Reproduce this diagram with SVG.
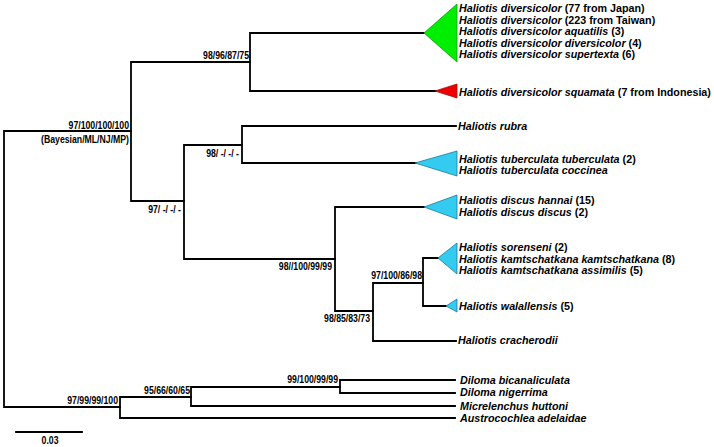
<svg xmlns="http://www.w3.org/2000/svg" width="714" height="447" viewBox="0 0 714 447">
<style>
.br{fill:none;stroke:#000;stroke-width:1.8;stroke-linecap:square}
.tx{font-family:"Liberation Sans",Arial,sans-serif;font-size:11.2px;font-style:italic;font-weight:bold;fill:#000}
.tx tspan.n{font-style:normal}
.sp{font-family:"Liberation Sans",Arial,sans-serif;font-size:10.5px;font-weight:bold;fill:#000;text-anchor:end}
.g{fill:#00ee00;stroke:#119911;stroke-width:0.8}
.r{fill:#ee0000;stroke:#991111;stroke-width:0.8}
.c{fill:#33ccf0;stroke:#227799;stroke-width:0.8}
</style>
<rect width="714" height="447" fill="#fff"/>
<g id="connectors">
<path class="br" d="M4,131V407 M4,131H131 M4,407H120"/>
<path class="br" d="M131,62V201 M131,62H250 M131,201H184"/>
<path class="br" d="M250,33V91 M250,33H424 M250,91H436"/>
<path class="br" d="M184,145V259 M184,145H242 M184,259H335"/>
<path class="br" d="M242,126V163 M242,126H456 M242,163H416"/>
<path class="br" d="M335,207V311 M335,207H424 M335,311H373"/>
<path class="br" d="M373,283V341 M373,283H423 M373,341H456"/>
<path class="br" d="M423,258V306 M423,258H438 M423,306H446"/>
<path class="br" d="M120,397V418 M120,397H191 M120,418H455"/>
<path class="br" d="M191,387V406 M191,387H340 M191,406H455"/>
<path class="br" d="M340,380V393 M340,380H455 M340,393H455"/>
</g>
<g id="clade-diversicolor">
<polygon class="g" points="424,33 457,4 457,62"/>
<text class="tx" transform="translate(459,12) scale(0.96,1)">Haliotis diversicolor <tspan class="n">(77 from Japan)</tspan></text>
<text class="tx" transform="translate(459,23.5) scale(0.96,1)">Haliotis diversicolor <tspan class="n">(223 from Taiwan)</tspan></text>
<text class="tx" transform="translate(459,35) scale(0.96,1)">Haliotis diversicolor aquatilis <tspan class="n">(3)</tspan></text>
<text class="tx" transform="translate(459,46.5) scale(0.96,1)">Haliotis diversicolor diversicolor <tspan class="n">(4)</tspan></text>
<text class="tx" transform="translate(459,58) scale(0.96,1)">Haliotis diversicolor supertexta <tspan class="n">(6)</tspan></text>
</g>
<g id="clade-squamata">
<polygon class="r" points="435,91 457,84 457,98"/>
<text class="tx" transform="translate(459,95.5) scale(0.96,1)">Haliotis diversicolor squamata <tspan class="n">(7 from Indonesia)</tspan></text>
</g>
<g id="taxon-rubra">
<text class="tx" transform="translate(458,130) scale(0.96,1)">Haliotis rubra</text>
</g>
<g id="clade-tuberculata">
<polygon class="c" points="415,163 457,151 457,176"/>
<text class="tx" transform="translate(459,162.5) scale(0.96,1)">Haliotis tuberculata tuberculata <tspan class="n">(2)</tspan></text>
<text class="tx" transform="translate(459,174) scale(0.96,1)">Haliotis tuberculata coccinea</text>
</g>
<g id="clade-discus">
<polygon class="c" points="424,207 457,195 457,219"/>
<text class="tx" transform="translate(459,204) scale(0.96,1)">Haliotis discus hannai <tspan class="n">(15)</tspan></text>
<text class="tx" transform="translate(459,215.5) scale(0.96,1)">Haliotis discus discus <tspan class="n">(2)</tspan></text>
</g>
<g id="clade-kamtschatkana">
<polygon class="c" points="438,258 457,243 457,274"/>
<text class="tx" transform="translate(459,251) scale(0.96,1)">Haliotis sorenseni <tspan class="n">(2)</tspan></text>
<text class="tx" transform="translate(459,262.7) scale(0.96,1)">Haliotis kamtschatkana kamtschatkana <tspan class="n">(8)</tspan></text>
<text class="tx" transform="translate(459,274.4) scale(0.96,1)">Haliotis kamtschatkana assimilis <tspan class="n">(5)</tspan></text>
</g>
<g id="clade-walallensis">
<polygon class="c" points="446,306 457,299 457,312"/>
<text class="tx" transform="translate(459,309.5) scale(0.96,1)">Haliotis walallensis <tspan class="n">(5)</tspan></text>
</g>
<g id="taxon-cracherodii">
<text class="tx" transform="translate(458,344) scale(0.96,1)">Haliotis cracherodii</text>
</g>
<g id="outgroup">
<text class="tx" transform="translate(460,383.5) scale(0.96,1)">Diloma bicanaliculata</text>
<text class="tx" transform="translate(460,396) scale(0.96,1)">Diloma nigerrima</text>
<text class="tx" transform="translate(460,409.5) scale(0.96,1)">Micrelenchus huttoni</text>
<text class="tx" transform="translate(460,422) scale(0.96,1)">Austrocochlea adelaidae</text>
</g>
<g id="support-labels">
<text class="sp" transform="translate(249,59) scale(0.83,1)">98/96/87/75</text>
<text class="sp" transform="translate(129,129) scale(0.83,1)">97/100/100/100</text>
<text class="sp" transform="translate(129,143) scale(0.83,1)">(Bayesian/ML/NJ/MP)</text>
<text class="sp" transform="translate(239,157) scale(0.83,1)">98/ -/ -/ -</text>
<text class="sp" transform="translate(181,213) scale(0.83,1)">97/ -/ -/ -</text>
<text class="sp" transform="translate(332,270) scale(0.83,1)">98//100/99/99</text>
<text class="sp" transform="translate(370,322) scale(0.83,1)">98/85/83/73</text>
<text class="sp" transform="translate(422,279) scale(0.83,1)">97/100/86/98</text>
<text class="sp" transform="translate(338,383) scale(0.83,1)">99/100/99/99</text>
<text class="sp" transform="translate(190,394) scale(0.83,1)">95/66/60/65</text>
<text class="sp" transform="translate(118,404) scale(0.83,1)">97/99/99/100</text>
</g>
<g id="scale-bar">
<path class="br" d="M16,432H82"/>
<text class="sp" transform="translate(50,444) scale(0.83,1)" style="text-anchor:middle">0.03</text>
</g>
</svg>
